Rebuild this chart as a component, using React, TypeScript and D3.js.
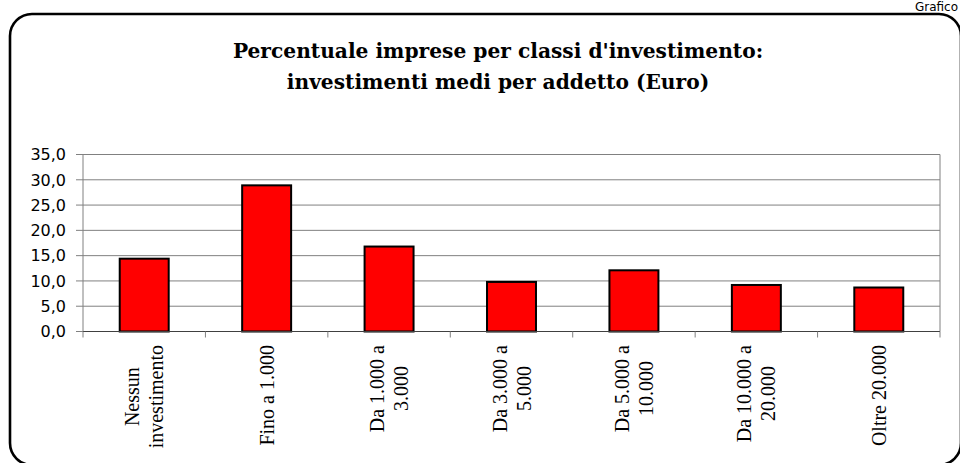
import React, { useEffect, useRef } from "react";
import * as d3 from "d3";

const categoryLines: string[][] = [
  ["Nessun", "investimento"],
  ["Fino a 1.000"],
  ["Da 1.000 a", "3.000"],
  ["Da 3.000 a", "5.000"],
  ["Da 5.000 a", "10.000"],
  ["Da 10.000 a", "20.000"],
  ["Oltre 20.000"],
];
const values: number[] = [14.4, 28.9, 16.8, 9.8, 12.1, 9.2, 8.7];
const yTicks: number[] = [0, 5, 10, 15, 20, 25, 30, 35];
const titleLines: string[] = [
  "Percentuale imprese per classi d'investimento:",
  "investimenti medi per addetto (Euro)",
];
const cornerText = "Grafico";

const W = 960;
const H = 463;

export default function App() {
  const ref = useRef<SVGSVGElement | null>(null);

  useEffect(() => {
    const svg = d3.select(ref.current);
    svg.selectAll("*").remove();

    const left = 83, right = 940, top = 154.5, bottom = 331.5;

    // outer frame
    svg.append("rect")
      .attr("x", 10).attr("y", 14).attr("width", 951).attr("height", 451)
      .attr("rx", 22).attr("ry", 22)
      .attr("fill", "#fff").attr("stroke", "#000").attr("stroke-width", 2.6);

    svg.append("text")
      .attr("x", 958).attr("y", 11).attr("text-anchor", "end")
      .attr("font-family", "DejaVu Sans").attr("font-size", 12)
      .attr("fill", "#000").text(cornerText);

    // title
    const title = svg.append("text")
      .attr("font-family", "DejaVu Serif").attr("font-weight", "bold")
      .attr("font-size", 20.2).attr("text-anchor", "middle").attr("fill", "#000");
    titleLines.forEach((t, i) => {
      title.append("tspan").attr("x", 498).attr("y", 58 + i * 31).text(t);
    });

    const x = d3.scaleBand<number>()
      .domain(d3.range(values.length))
      .range([left, right])
      .paddingInner(0.6).paddingOuter(0.3);
    const step = x.step();
    const y = d3.scaleLinear().domain([0, 35]).range([bottom, top]);

    // gridlines
    svg.append("g").selectAll("line").data(yTicks.filter(t => t > 0)).join("line")
      .attr("x1", left).attr("x2", right)
      .attr("y1", d => y(d)).attr("y2", d => y(d))
      .attr("stroke", "#808080").attr("stroke-width", 1);

    // plot right border
    svg.append("line").attr("x1", right).attr("x2", right).attr("y1", top).attr("y2", bottom)
      .attr("stroke", "#808080").attr("stroke-width", 1);
    // y axis
    svg.append("line").attr("x1", left).attr("x2", left).attr("y1", top).attr("y2", bottom)
      .attr("stroke", "#808080").attr("stroke-width", 1);
    svg.append("g").selectAll("line").data(yTicks).join("line")
      .attr("x1", 76).attr("x2", left)
      .attr("y1", d => y(d)).attr("y2", d => y(d))
      .attr("stroke", "#808080").attr("stroke-width", 1);
    svg.append("g").selectAll("text").data(yTicks).join("text")
      .attr("x", 66).attr("y", d => y(d)).attr("dy", "0.36em")
      .attr("text-anchor", "end")
      .attr("font-family", "DejaVu Sans").attr("font-size", 16)
      .attr("fill", "#000")
      .text(d => d3.format(".1f")(d).replace(".", ","));

    // bars
    svg.append("g").selectAll("rect").data(values).join("rect")
      .attr("x", (_d, i) => x(i)!)
      .attr("y", d => y(d))
      .attr("width", x.bandwidth())
      .attr("height", d => bottom - y(d))
      .attr("fill", "#ff0000").attr("stroke", "#000").attr("stroke-width", 2);

    // x axis
    svg.append("line").attr("x1", left).attr("x2", right).attr("y1", bottom).attr("y2", bottom)
      .attr("stroke", "#404040").attr("stroke-width", 1);
    svg.append("g").selectAll("line").data(d3.range(values.length + 1)).join("line")
      .attr("x1", i => left + i * step).attr("x2", i => left + i * step)
      .attr("y1", bottom).attr("y2", bottom + 6)
      .attr("stroke", "#808080").attr("stroke-width", 1);

    // x labels (rotated)
    const lh = 24;
    categoryLines.forEach((lines, i) => {
      const cx = x(i)! + x.bandwidth() / 2;
      const g = svg.append("g");
      const texts = lines.map((l, j) => {
        const bx = cx + 7 + (j - (lines.length - 1) / 2) * lh;
        return g.append("text")
          .attr("font-family", "Liberation Serif").attr("font-size", 20)
          .attr("fill", "#000").attr("text-anchor", "middle")
          .attr("transform", `translate(${bx},0) rotate(-90)`)
          .text(l);
      });
      const maxW = d3.max(texts, t => (t.node() as SVGTextElement).getComputedTextLength()) || 0;
      const centerY = 345 + maxW / 2;
      texts.forEach((t, j) => {
        const bx = cx + 7 + (j - (lines.length - 1) / 2) * lh;
        t.attr("transform", `translate(${bx},${centerY}) rotate(-90)`);
      });
    });
  }, []);

  return (
    <svg
      ref={ref}
      width={W}
      height={H}
      style={{ position: "absolute", left: 0, top: 0, background: "#fff" }}
    />
  );
}
